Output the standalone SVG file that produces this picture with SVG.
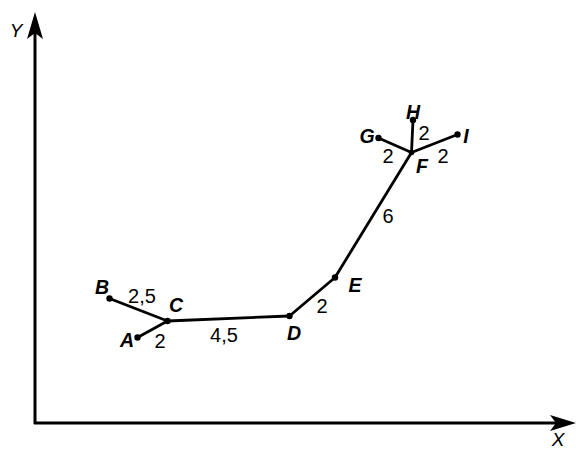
<svg xmlns="http://www.w3.org/2000/svg" width="576" height="449" viewBox="0 0 576 449">
<style>
.ax{stroke:#000;stroke-width:3;fill:none}
.seg{stroke:#000;stroke-width:2.8;fill:none;stroke-linecap:round}
.pt{fill:#000}
.lbl{font-family:"Liberation Sans",Arial,sans-serif;font-size:19.5px;font-weight:bold;font-style:italic;fill:#000}
.num{font-family:"Liberation Sans",Arial,sans-serif;font-size:20px;fill:#000}
.axl{font-family:"Liberation Sans",Arial,sans-serif;font-size:19px;font-style:italic;fill:#000}
</style>
<rect width="576" height="449" fill="#fff"/>
<g id="axes">
<line class="ax" x1="35" y1="30" x2="35" y2="424"/>
<line class="ax" x1="34" y1="423" x2="560" y2="423"/>
<polygon points="35,12 43,39 35,33 27,39" fill="#000"/>
<polygon points="576,423 550,431 556,423 550,415" fill="#000"/>
<text class="axl" x="16" y="37" text-anchor="middle">Y</text>
<text class="axl" x="558" y="446" text-anchor="middle">X</text>
</g>
<g id="connectors">
<line class="seg" x1="109.5" y1="298.5" x2="167.5" y2="321"/>
<line class="seg" x1="137.5" y1="337.5" x2="167.5" y2="321"/>
<line class="seg" x1="167.5" y1="321" x2="289.5" y2="316"/>
<line class="seg" x1="289.5" y1="316" x2="335" y2="277.5"/>
<line class="seg" x1="335" y1="277.5" x2="411.5" y2="152.5"/>
<line class="seg" x1="411.5" y1="152.5" x2="378.5" y2="138"/>
<line class="seg" x1="411.5" y1="152.5" x2="413" y2="120"/>
<line class="seg" x1="411.5" y1="152.5" x2="457.5" y2="134.5"/>
<text class="num" x="142" y="303" text-anchor="middle">2,5</text>
<text class="num" x="160" y="348" text-anchor="middle">2</text>
<text class="num" x="224" y="342" text-anchor="middle">4,5</text>
<text class="num" x="322" y="313" text-anchor="middle">2</text>
<text class="num" x="388" y="223" text-anchor="middle">6</text>
<text class="num" x="388" y="163" text-anchor="middle">2</text>
<text class="num" x="424" y="140" text-anchor="middle">2</text>
<text class="num" x="443" y="163" text-anchor="middle">2</text>
</g>
<g id="A"><circle class="pt" cx="137.5" cy="337.5" r="3.2"/><text class="lbl" x="127" y="347" text-anchor="middle">A</text></g>
<g id="B"><circle class="pt" cx="109.5" cy="298.5" r="3.2"/><text class="lbl" x="102" y="294" text-anchor="middle">B</text></g>
<g id="C"><circle class="pt" cx="167.5" cy="321" r="3.2"/><text class="lbl" x="176" y="312" text-anchor="middle">C</text></g>
<g id="D"><circle class="pt" cx="289.5" cy="316" r="3.2"/><text class="lbl" x="294" y="340" text-anchor="middle">D</text></g>
<g id="E"><circle class="pt" cx="335" cy="277.5" r="3.2"/><text class="lbl" x="355" y="292" text-anchor="middle">E</text></g>
<g id="F"><circle class="pt" cx="411.5" cy="152.5" r="2.8"/><text class="lbl" x="422" y="173" text-anchor="middle">F</text></g>
<g id="G"><circle class="pt" cx="378.5" cy="138" r="3.2"/><text class="lbl" x="367" y="143" text-anchor="middle">G</text></g>
<g id="H"><circle class="pt" cx="413" cy="120" r="3.2"/><text class="lbl" x="413" y="119" text-anchor="middle">H</text></g>
<g id="I"><circle class="pt" cx="457.5" cy="134.5" r="3.2"/><text class="lbl" x="466" y="143" text-anchor="middle">I</text></g>
</svg>
